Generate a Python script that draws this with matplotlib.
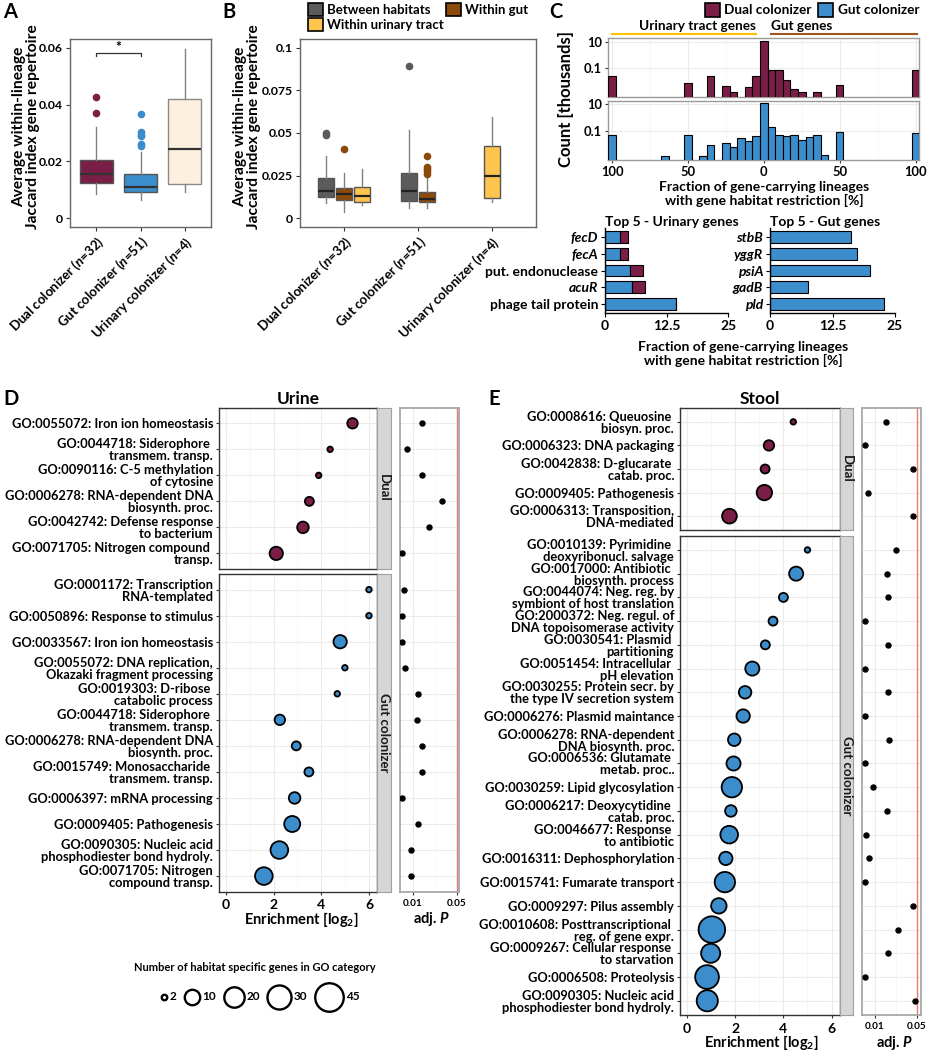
import numpy as np
import matplotlib
matplotlib.use("Agg")
import matplotlib.pyplot as plt
from matplotlib.patches import Patch
from matplotlib.transforms import blended_transform_factory as blend

plt.rcParams['font.family'] = ['Lato', 'DejaVu Sans']
plt.rcParams['font.weight'] = 'bold'
plt.rcParams['axes.labelweight'] = 'bold'
plt.rcParams['axes.titleweight'] = 'bold'
plt.rcParams['mathtext.fontset'] = 'custom'
plt.rcParams['mathtext.rm'] = 'Lato:bold'
plt.rcParams['mathtext.it'] = 'Lato:italic:bold'
plt.rcParams['mathtext.bf'] = 'Lato:bold'
plt.rcParams['mathtext.sf'] = 'Lato:bold'

# ------------------------------------------------------------------ data
# Panel A
a_groups = ['Dual colonizer', 'Gut colonizer', 'Urinary colonizer']
a_n = [32, 51, 4]
a_whislo = [0.0084, 0.0064, 0.0093]
a_q1 = [0.0125, 0.0093, 0.0120]
a_med = [0.0155, 0.0110, 0.0245]
a_q3 = [0.0205, 0.0157, 0.0420]
a_whishi = [0.0320, 0.0234, 0.0596]
a_fliers = [[0.0427, 0.0369], [0.0366, 0.0302, 0.0294, 0.0288, 0.0261, 0.0255], []]
a_sig_pair = (1, 2)
a_sig_y = 0.058

# Panel B
b_groups = ['Dual colonizer', 'Gut colonizer', 'Urinary colonizer']
b_n = [32, 51, 4]
b_habitats = ['Between habitats', 'Within gut', 'Within urinary tract']
b_cat = [0, 0, 0, 1, 1, 2]
b_hab = [0, 1, 2, 0, 1, 2]
b_whislo = [0.0088, 0.0039, 0.0078, 0.0060, 0.0060, 0.0094]
b_q1 = [0.0123, 0.0106, 0.0098, 0.0100, 0.0094, 0.0119]
b_med = [0.0160, 0.0143, 0.0129, 0.0160, 0.0111, 0.0246]
b_q3 = [0.0236, 0.0178, 0.0182, 0.0266, 0.0154, 0.0424]
b_whishi = [0.0365, 0.0268, 0.0287, 0.0518, 0.0244, 0.0596]
b_fliers = [[0.0490, 0.0502], [0.0404], [], [0.0893],
            [0.0365, 0.0303, 0.0290, 0.0280, 0.0258], []]

# Panel C histograms (negative = urinary tract genes, positive = gut genes)
hist_bin_width = 5
hist_dual_bins = [-100, -50, -35, -25, -20, -10, -5, 0, 5, 10, 15, 20, 25, 35, 50, 100]
hist_dual_counts = [0.027, 0.0075, 0.028, 0.0047, 0.0018, 0.0038, 0.028, 11.0,
                    0.075, 0.070, 0.0133, 0.0027, 0.0018, 0.0018, 0.0053, 0.075]
hist_gut_bins = [-100, -65, -50, -40, -35, -25, -20, -15, -10, -5, 0, 5, 10, 15, 20,
                 25, 30, 35, 40, 50, 100]
hist_gut_counts = [0.056, 0.0015, 0.055, 0.0015, 0.010, 0.0126, 0.0071, 0.0316, 0.020,
                   0.047, 11.2, 0.20, 0.055, 0.047, 0.055, 0.0224, 0.035, 0.055, 0.0017,
                   0.094, 0.075]

# Panel C top-5 bars
urin_genes = ['fecD', 'fecA', 'put. endonuclease', 'acuR', 'phage tail protein']
urin_gut = [3.0, 3.0, 5.1, 5.4, 14.4]
urin_dual = [1.7, 1.7, 2.6, 2.8, 0.0]
gutg_genes = ['stbB', 'yggR', 'psiA', 'gadB', 'pld']
gutg_gut = [16.2, 17.3, 20.0, 7.5, 22.8]

# Panel D (Urine)
d_dual_terms = ['GO:0055072: Iron ion homeostasis',
                'GO:0044718: Siderophore \ntransmem. transp.',
                'GO:0090116: C-5 methylation\nof cytosine',
                'GO:0006278: RNA-dependent DNA\nbiosynth. proc.',
                'GO:0042742: Defense response\nto bacterium',
                'GO:0071705: Nitrogen compound \ntransp.']
d_dual_enr = [5.31, 4.37, 3.89, 3.50, 3.23, 2.11]
d_dual_n = [4, 2, 2, 3, 5, 7]
d_dual_p = [0.018, 0.0045, 0.0185, 0.037, 0.025, 0.0006]

d_gut_terms = ['GO:0001172: Transcription\nRNA-templated',
               'GO:0050896: Response to stimulus',
               'GO:0033567: Iron ion homeostasis',
               'GO:0055072: DNA replication,\nOkazaki fragment processing',
               'GO:0019303: D-ribose \ncatabolic process',
               'GO:0044718: Siderophore \ntransmem. transp.',
               'GO:0006278: RNA-dependent DNA\nbiosynth. proc.',
               'GO:0015749: Monosaccharide \ntransmem. transp.',
               'GO:0006397: mRNA processing',
               'GO:0009405: Pathogenesis',
               'GO:0090305: Nucleic acid\nphosphodiester bond hydroly.',
               'GO:0071705: Nitrogen\ncompound transp.']
d_gut_enr = [6.00, 6.00, 4.79, 4.99, 4.67, 2.26, 2.95, 3.48, 2.88, 2.78, 2.24, 1.59]
d_gut_n = [2, 2, 7, 2, 2, 4, 3, 3, 5, 11, 14, 14]
d_gut_p = [0.0024, 0.0006, 0.0006, 0.0030, 0.0150, 0.0139, 0.0185, 0.0185,
           0.0006, 0.0150, 0.0088, 0.0088]

# Panel E (Stool)
e_dual_terms = ['GO:0008616: Queuosine \nbiosyn. proc.',
                'GO:0006323: DNA packaging',
                'GO:0042838: D-glucarate \ncatab. proc.',
                'GO:0009405: Pathogenesis',
                'GO:0006313: Transposition,\nDNA-mediated']
e_dual_enr = [4.41, 3.40, 3.24, 3.21, 1.76]
e_dual_n = [2, 4, 3, 10, 9]
e_dual_p = [0.0208, 0.0005, 0.046, 0.0036, 0.046]

e_gut_terms = ['GO:0010139: Pyrimidine \ndeoxyribonucl. salvage',
               'GO:0017000: Antibiotic \nbiosynth. process',
               'GO:0044074: Neg. reg. by\nsymbiont of host translation',
               'GO:2000372: Neg. regul. of\nDNA topoisomerase activity',
               'GO:0030541: Plasmid \npartitioning',
               'GO:0051454: Intracellular \npH elevation',
               'GO:0030255: Protein secr. by\nthe type IV secretion system',
               'GO:0006276: Plasmid maintance',
               'GO:0006278: RNA-dependent\nDNA biosynth. proc.',
               'GO:0006536: Glutamate \nmetab. proc..',
               'GO:0030259: Lipid glycosylation',
               'GO:0006217: Deoxycytidine \ncatab. proc.',
               'GO:0046677: Response \nto antibiotic',
               'GO:0016311: Dephosphorylation',
               'GO:0015741: Fumarate transport',
               'GO:0009297: Pilus assembly',
               'GO:0010608: Posttranscriptional \nreg. of gene expr.',
               'GO:0009267: Cellular response \nto starvation',
               'GO:0006508: Proteolysis',
               'GO:0090305: Nucleic acid\nphosphodiester bond hydroly.']
e_gut_enr = [5.00, 4.53, 4.00, 3.57, 3.25, 2.71, 2.41, 2.33, 1.96, 1.93, 1.86, 1.82,
             1.75, 1.61, 1.57, 1.32, 1.03, 0.98, 0.83, 0.84]
e_gut_n = [2, 8, 3, 3, 3, 8, 6, 7, 6, 8, 20, 5, 14, 7, 20, 10, 38, 17, 29, 22]
e_gut_p = [0.0305, 0.0210, 0.0228, 0.0004, 0.0228, 0.0003, 0.0225, 0.0004, 0.0234,
           0.0003, 0.0084, 0.0210, 0.0010, 0.0042, 0.0004, 0.0465, 0.0320, 0.0225,
           0.0003, 0.0480]

size_legend_values = [2, 10, 20, 30, 45]

# ------------------------------------------------------------------ style
DUAL = '#7A1D47'
GUT = '#3C8DCB'
URIN_A = '#FDF0DE'
BETWEEN = '#5B5B5B'
WGUT = '#8C4A0A'
WURIN = '#FFC44E'
GRID = '#EBEBEB'

W, H = 927, 1050
fig = plt.figure(figsize=(W / 100, H / 100), dpi=100)


def pax(x0, y0, x1, y1):
    return fig.add_axes([x0 / W, 1 - y1 / H, (x1 - x0) / W, (y1 - y0) / H])


def ftext(x, y, s, **kw):
    return fig.text(x / W, 1 - y / H, s, **kw)


def style_frame(ax, color='#666666', lw=1.0):
    for s in ax.spines.values():
        s.set_color(color)
        s.set_linewidth(lw)


# panel letters
for letter, (x, y) in zip('ABCDE', [(3, 2), (222, 2), (549, 2), (3, 389), (488, 389)]):
    ftext(x, y, letter, fontsize=14.5, fontweight='bold', va='top', ha='left')

YLAB = 'Average within-lineage\nJaccard index gene repertoire'

# ------------------------------------------------------------------ Panel A
axA = pax(70, 39.3, 211, 227)
statsA = [dict(whislo=a_whislo[i], q1=a_q1[i], med=a_med[i], q3=a_q3[i],
               whishi=a_whishi[i], fliers=a_fliers[i]) for i in range(len(a_groups))]
bpA = axA.bxp(statsA, positions=np.arange(1, len(a_groups) + 1), widths=0.75,
              patch_artist=True, showcaps=False,
              boxprops=dict(edgecolor='#555555', linewidth=1),
              medianprops=dict(color='#333333', linewidth=1.6),
              whiskerprops=dict(color='#808080', linewidth=1),
              flierprops=dict(marker='o', markersize=5.5, markeredgewidth=0))
for patch, fl, c in zip(bpA['boxes'], bpA['fliers'], [DUAL, GUT, URIN_A]):
    patch.set_facecolor(c)
    if c == URIN_A:
        patch.set_edgecolor('#8A8A8A')
    fl.set_markerfacecolor(c)
axA.set_xlim(0.4, 3.6)
axA.set_ylim(-0.0031, 0.063)
axA.set_yticks([0, 0.02, 0.04, 0.06])
axA.set_yticklabels(['0', '0.02', '0.04', '0.06'])
axA.set_xticks(np.arange(1, len(a_groups) + 1))
axA.set_xticklabels([rf'{g} ($\mathit{{n}}$={n})' for g, n in zip(a_groups, a_n)],
                    rotation=45, ha='right', rotation_mode='anchor')
axA.tick_params(axis='x', labelsize=9.5, length=3, color='#333333', pad=2)
axA.tick_params(axis='y', labelsize=8.8, length=3, color='#333333', pad=2)
axA.set_ylabel(YLAB, fontsize=11.2, linespacing=1.0)
axA.yaxis.set_label_coords(-0.215, 0.535)
style_frame(axA)
x1, x2 = a_sig_pair
axA.plot([x1, x1, x2, x2], [a_sig_y - 0.0009, a_sig_y, a_sig_y, a_sig_y - 0.0009],
         color='#333333', lw=0.9)
axA.text((x1 + x2) / 2, a_sig_y + 0.0002, '*', ha='center', va='bottom', fontsize=10)

# ------------------------------------------------------------------ Panel B
axB = pax(300, 39.3, 536, 227)
hab_colors = [BETWEEN, WGUT, WURIN]
step = 0.245
positions, statsB = [], []
for i in range(len(b_cat)):
    members = [m for m in range(len(b_cat)) if b_cat[m] == b_cat[i]]
    k = len(members)
    j = members.index(i)
    positions.append(b_cat[i] + 1 + (j - (k - 1) / 2) * step)
    statsB.append(dict(whislo=b_whislo[i], q1=b_q1[i], med=b_med[i], q3=b_q3[i],
                       whishi=b_whishi[i], fliers=b_fliers[i]))
bpB = axB.bxp(statsB, positions=positions, widths=0.22, patch_artist=True, showcaps=False,
              boxprops=dict(edgecolor='#555555', linewidth=1),
              medianprops=dict(color='#222222', linewidth=1.6),
              whiskerprops=dict(color='#808080', linewidth=1),
              flierprops=dict(marker='o', markersize=5.5, markeredgewidth=0))
for patch, fl, h in zip(bpB['boxes'], bpB['fliers'], b_hab):
    patch.set_facecolor(hab_colors[h])
    fl.set_markerfacecolor(hab_colors[h])
axB.set_xlim(0.4, 3.6)
axB.set_ylim(-0.0051, 0.1049)
axB.set_yticks([0, 0.025, 0.05, 0.075, 0.1])
axB.set_yticklabels(['0', '0.025', '0.05', '0.075', '0.1'])
axB.set_xticks(np.arange(1, len(b_groups) + 1))
axB.set_xticklabels([rf'{g} ($\mathit{{n}}$={n})' for g, n in zip(b_groups, b_n)],
                    rotation=45, ha='right', rotation_mode='anchor')
axB.tick_params(axis='x', labelsize=9.5, length=3, color='#333333', pad=2)
axB.tick_params(axis='y', labelsize=8.8, length=3, color='#333333', pad=2)
axB.set_ylabel(YLAB, fontsize=11.2, linespacing=1.0)
axB.yaxis.set_label_coords(-0.165, 0.535)
style_frame(axB)
order = [0, 2, 1]
fig.legend(handles=[Patch(facecolor=hab_colors[o], edgecolor='black', linewidth=1.2) for o in order],
           labels=[b_habitats[o] for o in order], ncol=2, loc='upper left',
           bbox_to_anchor=(308 / W, 1 - 3 / H), frameon=False, fontsize=9.5,
           handlelength=1.15, handleheight=1.15, handletextpad=0.3, columnspacing=0.15,
           labelspacing=0.12, borderaxespad=0, borderpad=0)

# ------------------------------------------------------------------ Panel C histograms
axH1 = pax(608.3, 38.3, 919.3, 96.7)
axH2 = pax(608.3, 100.7, 919.3, 160)
for ax, bins, counts, col in [(axH1, hist_dual_bins, hist_dual_counts, DUAL),
                              (axH2, hist_gut_bins, hist_gut_counts, GUT)]:
    ax.set_yscale('log')
    ax.bar(bins, counts, width=hist_bin_width, color=col, edgecolor='black', linewidth=0.8,
           zorder=3)
    ax.set_xlim(-102.5, 102.5)
    ax.set_ylim(0.00074, 18)
    ax.set_yticks([0.1, 10])
    ax.set_yticklabels(['0.1', '10'])
    ax.yaxis.set_minor_locator(matplotlib.ticker.NullLocator())
    ax.set_xticks([-100, -50, 0, 50, 100])
    ax.set_xticks([-75, -25, 25, 75], minor=True)
    ax.grid(True, which='major', color=GRID, lw=0.8)
    ax.grid(True, which='minor', axis='x', color='#F4F4F4', lw=0.5)
    ax.set_axisbelow(True)
    ax.tick_params(labelsize=9.3, length=2.5, color='#333333', pad=2)
    ax.tick_params(which='minor', length=0)
    style_frame(ax, '#9A9A9A')
axH1.tick_params(axis='x', labelbottom=False, length=0)
axH2.set_xticklabels([str(abs(v)) for v in [-100, -50, 0, 50, 100]])
ftext(566, 99, 'Count [thousands]', rotation=90, ha='center', va='center', fontsize=12)
ftext(764.5, 194, 'Fraction of gene-carrying lineages\nwith gene habitat restriction [%]',
      ha='center', va='center', fontsize=10, linespacing=1.1)
tr = blend(axH1.transData, axH1.transAxes)
axH1.plot([-100, -5], [1.075, 1.075], color='#FFC000', lw=1.5, transform=tr, clip_on=False)
axH1.plot([5, 101], [1.075, 1.075], color='#A0561E', lw=1.5, transform=tr, clip_on=False)
axH1.text(-5, 1.11, 'Urinary tract genes', transform=tr, ha='right', va='bottom', fontsize=9.8)
axH1.text(5, 1.11, 'Gut genes', transform=tr, ha='left', va='bottom', fontsize=9.8)
fig.legend(handles=[Patch(facecolor=DUAL, edgecolor='black', linewidth=1.2),
                    Patch(facecolor=GUT, edgecolor='black', linewidth=1.2)],
           labels=['Dual colonizer', 'Gut colonizer'], ncol=2, loc='upper right',
           bbox_to_anchor=(919 / W, 1 - 3 / H), frameon=False, fontsize=9.8,
           handlelength=1.15, handleheight=1.15, handletextpad=0.3, columnspacing=0.45,
           borderaxespad=0, borderpad=0)

# ------------------------------------------------------------------ Panel C top-5 bars
axU = pax(605, 227.7, 728.3, 313.3)
axG = pax(770, 227.7, 895, 313.3)
yU = np.arange(len(urin_genes))
axU.barh(yU, urin_gut, height=0.7, color=GUT, edgecolor='black', linewidth=0.8)
axU.barh(yU, urin_dual, left=urin_gut, height=0.7, color=DUAL, edgecolor='black',
         linewidth=0.8)
yG = np.arange(len(gutg_genes))
axG.barh(yG, gutg_gut, height=0.7, color=GUT, edgecolor='black', linewidth=0.8)
for ax, genes, title in [(axU, urin_genes, 'Top 5 - Urinary genes'),
                         (axG, gutg_genes, 'Top 5 - Gut genes')]:
    ax.set_ylim(len(genes) - 0.47, -0.53)
    ax.set_xlim(0, 25)
    ax.set_yticks(np.arange(len(genes)))
    ax.set_yticklabels(genes)
    for lab, g in zip(ax.get_yticklabels(), genes):
        if ' ' not in g:
            lab.set_fontstyle('italic')
    ax.set_xticks([0, 12.5, 25])
    ax.set_xticklabels(['0', '12.5', '25'])
    ax.tick_params(labelsize=10, length=3, color='black', pad=2)
    ax.spines['top'].set_visible(False)
    ax.spines['right'].set_visible(False)
    ax.spines['left'].set_linewidth(1)
    ax.spines['bottom'].set_linewidth(1)
    ax.set_title(title, loc='left', fontsize=10, pad=1, x=0.0)
ftext(743, 354, 'Fraction of gene-carrying lineages\nwith gene habitat restriction [%]',
      ha='center', va='center', fontsize=10, linespacing=1.1)

# ------------------------------------------------------------------ Panels D / E
GO_FS = 9.25


def diam_px(n):
    n = np.asarray(n, dtype=float)
    return 5.5 + 23.0 * np.sqrt(np.clip(n - 2, 0, None) / 43.0)


def size_pt(n):
    return diam_px(n) * 0.72


def go_facet(box, labels, enr, ngenes, color, show_x):
    ax = pax(*box)
    rows = np.arange(len(labels))
    ax.scatter(enr, rows, s=size_pt(ngenes) ** 2, c=color, edgecolors='black',
               linewidths=1.3, zorder=3, clip_on=False)
    ax.set_xlim(-0.28, 6.35)
    ax.set_ylim(len(labels) - 0.4, -0.6)
    ax.set_yticks(rows)
    ax.set_yticklabels(labels, fontsize=GO_FS, linespacing=1.0)
    ax.set_xticks([0, 2, 4, 6])
    ax.set_xticks([1, 3, 5], minor=True)
    ax.grid(True, which='major', color=GRID, lw=0.8)
    ax.grid(True, which='minor', axis='x', color='#F4F4F4', lw=0.5)
    ax.set_axisbelow(True)
    ax.tick_params(axis='y', length=2.5, width=0.8, color='#333333', pad=2)
    ax.tick_params(axis='x', which='minor', length=0)
    if show_x:
        ax.tick_params(axis='x', labelsize=10, length=2.5, color='#333333', pad=3)
    else:
        ax.tick_params(axis='x', labelbottom=False, length=0)
    style_frame(ax, '#333333', 1.0)
    return ax


def strip(box, text):
    ax = pax(*box)
    ax.set_facecolor('#D6D6D6')
    ax.set_xticks([])
    ax.set_yticks([])
    style_frame(ax, '#A0A0A0', 0.8)
    ax.text(0.5, 0.5, text, rotation=270, ha='center', va='center', fontsize=9.5,
            transform=ax.transAxes, color='#1A1A1A')


def p_panel(box, facets, pvals, xlim):
    axp = pax(*box)
    for axm, pv in zip(facets, pvals):
        rows = np.arange(len(pv))
        axp.plot(pv, rows, 'o', color='black', ms=3.6,
                 transform=blend(axp.transData, axm.transData), zorder=3)
        for r in rows:
            axp.plot([0, 1], [r, r], transform=blend(axp.transAxes, axm.transData),
                     color=GRID, lw=0.8, zorder=0)
    axp.axvline(0.05, color='#F07A70', lw=1, zorder=2)
    axp.set_xlim(*xlim)
    axp.set_ylim(0, 1)
    axp.set_yticks([])
    axp.set_xticks([0.01, 0.05])
    axp.set_xticklabels(['0.01', '0.05'])
    axp.set_xticks([0.03], minor=True)
    axp.grid(True, which='major', axis='x', color=GRID, lw=0.8)
    axp.grid(True, which='minor', axis='x', color='#F4F4F4', lw=0.5)
    axp.set_axisbelow(True)
    axp.tick_params(axis='x', labelsize=7.2, length=2, color='#333333', pad=3)
    axp.tick_params(axis='x', which='minor', length=0)
    style_frame(axp, '#A8A8A8', 1.3)
    return axp


# D
ftext(298, 399, 'Urine', ha='center', va='center', fontsize=12.5)
axDd = go_facet((219.3, 407.7, 377.3, 569), d_dual_terms, d_dual_enr, d_dual_n, DUAL, False)
axDg = go_facet((219.3, 574, 377.3, 891.7), d_gut_terms, d_gut_enr, d_gut_n, GUT, True)
strip((377.3, 407.7, 390.7, 569), 'Dual')
strip((377.3, 574, 390.7, 891.7), 'Gut colonizer')
p_panel((400, 407.7, 459, 891.7), [axDd, axDg], [d_dual_p, d_gut_p], (-0.0015, 0.052))
ftext(301.5, 919.5, r'Enrichment [log$_2$]', ha='center', va='center', fontsize=10.5)
ftext(431.7, 919.5, r'adj. $\mathit{P}$', ha='center', va='center', fontsize=10.5)

# E
ftext(760, 399, 'Stool', ha='center', va='center', fontsize=12.5)
axEd = go_facet((680.3, 407.7, 840, 530.3), e_dual_terms, e_dual_enr, e_dual_n, DUAL, False)
axEg = go_facet((680.3, 535.7, 840, 1015), e_gut_terms, e_gut_enr, e_gut_n, GUT, True)
strip((840, 407.7, 853.3, 530.3), 'Dual')
strip((840, 535.7, 853.3, 1015), 'Gut colonizer')
p_panel((861.7, 407.7, 920.7, 1015), [axEd, axEg], [e_dual_p, e_gut_p], (-0.0028, 0.0538))
ftext(761, 1042.5, r'Enrichment [log$_2$]', ha='center', va='center', fontsize=10.5)
ftext(894, 1042.5, r'adj. $\mathit{P}$', ha='center', va='center', fontsize=10.5)

# size legend (pixel coordinate axes)
axL = pax(0, 945, 470, 1050)
axL.set_xlim(0, 470)
axL.set_ylim(1050, 945)
axL.axis('off')
axL.text(255, 967.7, 'Number of habitat specific genes in GO category', ha='center',
         va='center', fontsize=8)
cursor = 161.5
for v in size_legend_values:
    d = float(diam_px(v))
    cx = cursor + d / 2
    axL.scatter([cx], [996.7], s=(d * 0.72) ** 2, facecolors='white', edgecolors='black',
                linewidths=1.7, clip_on=False)
    axL.text(cx + d / 2 + 2.5, 996.7, str(v), ha='left', va='center', fontsize=8.5)
    cursor = cx + d / 2 + 2.5 + 6 * len(str(v)) + 9

fig.savefig('out.png', dpi=100)
